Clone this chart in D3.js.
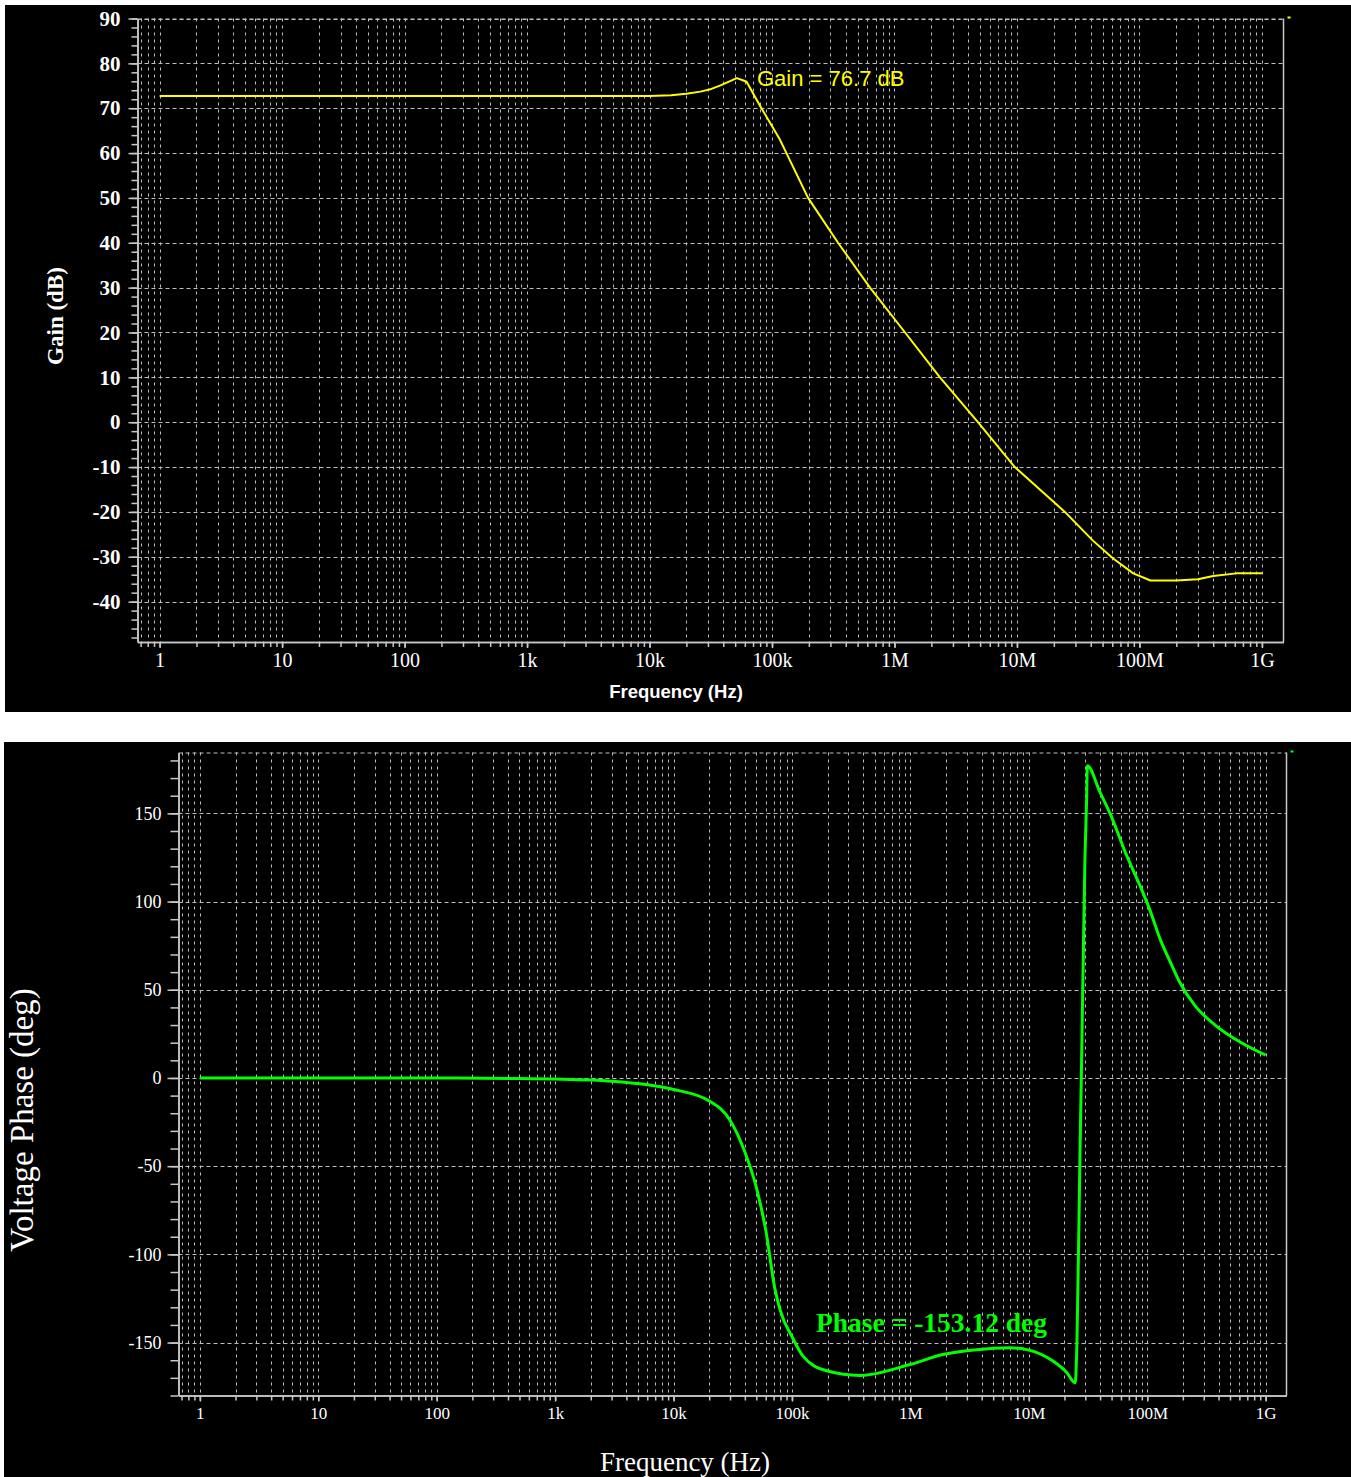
<!DOCTYPE html>
<html>
<head>
<meta charset="utf-8">
<script src="https://cdn.jsdelivr.net/npm/d3@7"></script>
<style>
body { margin: 0; background: #fff; }
</style>
</head>
<body>
<script>
// gain trace
var gainFreq = [1, 1000, 10000, 15000, 20000, 26000, 32000, 38000, 45000, 51500, 57000, 62000, 80000, 116000, 197000, 346000, 631000, 1220000, 2350000, 4800000, 9600000, 24600000, 41700000, 61000000, 89000000, 123000000, 200000000, 300000000, 400000000, 620000000, 1000000000]
var gainDb = [72.7, 72.7, 72.75, 72.9, 73.2, 73.7, 74.3, 75.1, 76.0, 76.7, 76.3, 75.9, 70.5, 63, 50, 40, 30, 20, 10, 0, -10, -20, -26.4, -30.4, -33.7, -35.3, -35.3, -35.0, -34.3, -33.7, -33.7]

// phase trace
var phaseFreq = [1, 100, 500, 1000, 3000, 10000, 20000, 30000, 40000, 50000, 60000, 72000, 79000, 102500, 124000, 196000, 375000, 993000, 1880000, 3630000, 6930000, 9600000, 16000000, 20900000, 24600000, 25500000, 27000000, 28100000, 29800000, 30800000, 31200000, 39900000, 48500000, 67100000, 86900000, 105600000, 128000000, 156000000, 189000000, 253000000, 374000000, 608000000, 1000000000]
var phaseDeg = [0, 0, -0.3, -0.6, -1.8, -6.5, -13, -24, -42, -62, -86, -120, -131, -148, -157.7, -166, -168.6, -162.4, -156.8, -154, -153, -154, -160.5, -167, -172.8, -150, -47, 22, 125, 159, 177, 162, 150, 126, 109, 95, 79, 66, 54, 41, 30, 20.4, 13]

var freqTicks = [1, 10, 100, 1e3, 1e4, 1e5, 1e6, 1e7, 1e8, 1e9]
var freqLabels = ["1", "10", "100", "1k", "10k", "100k", "1M", "10M", "100M", "1G"]
var gainTicks = [-40, -30, -20, -10, 0, 10, 20, 30, 40, 50, 60, 70, 80, 90]
var phaseTicks = [-150, -100, -50, 0, 50, 100, 150]

var freqDomain = [0.66, 1.5e9]

// 1..9 per decade, for minor ticks and the vertical grid
var freqMinor = []
for (var e = -1; e <= 9; e++)
	for (var m = 1; m <= 9; m++) {
		var v = m * Math.pow(10, e)
		if (v >= freqDomain[0] && v <= freqDomain[1]) freqMinor.push(v)
	}

var svg = d3.select("body").append("svg")
	.attr("width", 1351)
	.attr("height", 1477)

svg.append("rect").attr("x", 5).attr("y", 5).attr("width", 1346).attr("height", 707).attr("fill", "#000")
svg.append("rect").attr("x", 4).attr("y", 742).attr("width", 1347).attr("height", 735).attr("fill", "#000")

var gridColor = "#bdbdbd"
var axisColor = "#c8c8c8"

function drawPlot(o) {
	var g = svg.append("g")
	var x = o.x, y = o.y
	var x0 = x.range()[0], x1 = x.range()[1]
	var y0 = y.range()[0], y1 = y.range()[1]

	// vertical grid
	g.append("g").selectAll("line")
		.data(freqMinor)
		.join("line")
		.attr("x1", d => Math.round(x(d)) + 0.5)
		.attr("x2", d => Math.round(x(d)) + 0.5)
		.attr("y1", y1)
		.attr("y2", y0)
		.attr("stroke", gridColor)
		.attr("stroke-dasharray", "3,4")

	// horizontal grid
	g.append("g").selectAll("line")
		.data(o.yTicks)
		.join("line")
		.attr("x1", x0)
		.attr("x2", x1)
		.attr("y1", d => Math.round(y(d)) + 0.5)
		.attr("y2", d => Math.round(y(d)) + 0.5)
		.attr("stroke", gridColor)
		.attr("stroke-dasharray", "4,3")

	// top and right border
	g.append("line").attr("x1", x0).attr("x2", x1).attr("y1", y1 + 0.5).attr("y2", y1 + 0.5)
		.attr("stroke", gridColor).attr("stroke-dasharray", "4,3")
	g.append("line").attr("x1", x1).attr("x2", x1).attr("y1", y1).attr("y2", y0)
		.attr("stroke", axisColor).attr("stroke-width", 1.5)

	// y axis
	var ya = g.append("g").attr("transform", "translate(" + x0 + ",0)")
	ya.call(d3.axisLeft(y).tickValues(o.yMinor).tickSize(o.minorLen).tickSizeOuter(0).tickFormat(""))
	var yb = g.append("g").attr("transform", "translate(" + x0 + ",0)")
	yb.call(d3.axisLeft(y).tickValues(o.yTicks).tickSize(o.majorLen).tickSizeOuter(0)
		.tickPadding(o.yPad)
		.tickFormat(d => String(d)))
	yb.selectAll("text")
		.attr("fill", "#fff")
		.style("font-family", "'Liberation Serif', serif")
		.style("font-size", o.yFont + "px")
		.style("font-weight", o.yWeight)

	// x axis
	var xa = g.append("g").attr("transform", "translate(0," + y0 + ")")
	xa.call(d3.axisBottom(x).tickValues(freqMinor).tickSize(5).tickSizeOuter(0).tickFormat(""))
	var xb = g.append("g").attr("transform", "translate(0," + y0 + ")")
	xb.call(d3.axisBottom(x).tickValues(freqTicks).tickSize(6).tickSizeOuter(0)
		.tickPadding(o.xPad)
		.tickFormat((d, i) => freqLabels[i]))
	xb.selectAll("text")
		.attr("fill", "#fff")
		.style("font-family", "'Liberation Serif', serif")
		.style("font-size", o.xFont + "px")
		.style("font-weight", o.xWeight)

	g.selectAll(".domain").attr("stroke", axisColor).attr("stroke-width", 1.5)
	g.selectAll(".tick line").attr("stroke", axisColor).attr("stroke-width", 1.5)

	// trace
	var pts = o.xs.map((d, i) => [d, o.ys[i]])
	g.append("path")
		.datum(pts)
		.attr("fill", "none")
		.attr("stroke", o.color)
		.attr("stroke-width", o.lineWidth)
		.attr("stroke-linejoin", "round")
		.attr("d", d3.line().x(d => x(d[0])).y(d => y(d[1])).curve(o.curve))

	// marker dot at top right
	g.append("rect").attr("x", x1 + 4).attr("y", y1 - 2).attr("width", 3).attr("height", 2).attr("fill", o.color)
	return g
}

// top: gain
var xTop = d3.scaleLog().domain(freqDomain).range([137.5, 1283.5])
var yTop = d3.scaleLinear().domain([-49, 90]).range([642, 18.5])
var gainMinor = []
for (var v = -48; v <= 90; v += 2) gainMinor.push(v)

var gainPlot = drawPlot({
	x: xTop, y: yTop, yTicks: gainTicks, yMinor: gainMinor,
	majorLen: 9, minorLen: 6, yPad: 8, yFont: 21, yWeight: "bold",
	xPad: 5, xFont: 20, xWeight: "normal",
	xs: gainFreq, ys: gainDb, color: "#ffff00", lineWidth: 2, curve: d3.curveLinear
})

gainPlot.append("text")
	.attr("x", 757).attr("y", 86)
	.attr("fill", "#ffff00")
	.style("font-family", "'Liberation Sans', Arial, sans-serif")
	.style("font-size", "22px")
	.text("Gain = 76.7 dB")

gainPlot.append("text")
	.attr("x", 676).attr("y", 698)
	.attr("text-anchor", "middle")
	.attr("fill", "#fff")
	.style("font-family", "'Liberation Sans', Arial, sans-serif")
	.style("font-size", "18.5px")
	.style("font-weight", "bold")
	.text("Frequency (Hz)")

gainPlot.append("text")
	.attr("transform", "translate(63,316) rotate(-90)")
	.attr("text-anchor", "middle")
	.attr("fill", "#fff")
	.style("font-family", "'Liberation Serif', serif")
	.style("font-size", "23px")
	.style("font-weight", "bold")
	.text("Gain (dB)")

// bottom: phase
var xBot = d3.scaleLog().domain(freqDomain).range([178.5, 1286.5])
var yBot = d3.scaleLinear().domain([-180, 184.5]).range([1395.5, 752.5])
var phaseMinor = []
for (var v = -180; v <= 180; v += 10) phaseMinor.push(v)

var phasePlot = drawPlot({
	x: xBot, y: yBot, yTicks: phaseTicks, yMinor: phaseMinor,
	majorLen: 11, minorLen: 8, yPad: 6, yFont: 18, yWeight: "normal",
	xPad: 5, xFont: 17, xWeight: "normal",
	xs: phaseFreq, ys: phaseDeg, color: "#00ff00", lineWidth: 3, curve: d3.curveMonotoneX
})

phasePlot.append("text")
	.attr("x", 816).attr("y", 1332)
	.attr("fill", "#00ff00")
	.style("font-family", "'Liberation Serif', serif")
	.style("font-size", "27.5px")
	.style("font-weight", "bold")
	.text("Phase = -153.12 deg")

phasePlot.append("text")
	.attr("x", 685).attr("y", 1471)
	.attr("text-anchor", "middle")
	.attr("fill", "#fff")
	.style("font-family", "'Liberation Serif', serif")
	.style("font-size", "27px")
	.text("Frequency (Hz)")

phasePlot.append("text")
	.attr("transform", "translate(33,1120) rotate(-90)")
	.attr("text-anchor", "middle")
	.attr("fill", "#fff")
	.style("font-family", "'Liberation Serif', serif")
	.style("font-size", "33px")
	.text("Voltage Phase (deg)")
</script>
</body>
</html>
